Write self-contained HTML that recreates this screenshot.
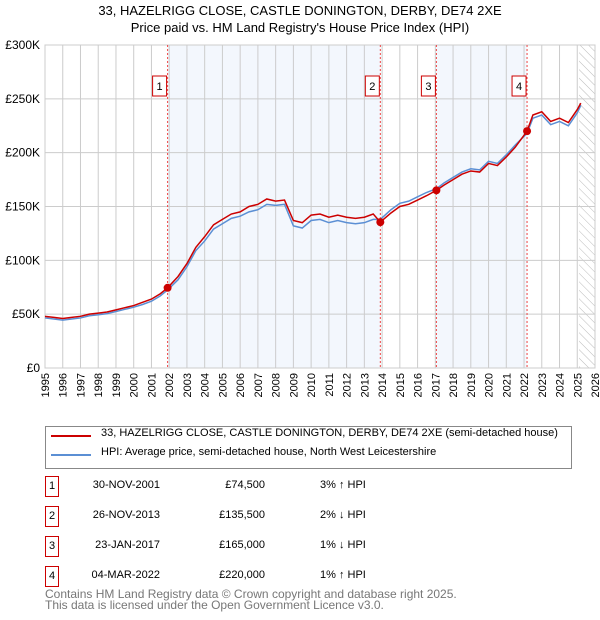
<!DOCTYPE html>
<html><head><meta charset="utf-8"><style>
body{margin:0;background:#fff;font-family:"Liberation Sans","DejaVu Sans",sans-serif;}
#wrap{position:relative;width:600px;height:620px;overflow:hidden}
.t{position:absolute;font-size:12px;color:#000;white-space:nowrap}
.box{position:absolute;border:1px solid #c00;width:12px;height:19px;font-size:11px;text-align:center;line-height:19px}
</style></head><body><div id="wrap">
<svg id="svg" width="600" height="420" style="position:absolute;left:0;top:0"></svg>
<div style="position:absolute;left:45px;top:426px;width:525px;height:41px;border:1px solid #888"></div>
<div style="position:absolute;left:51px;top:435px;width:40px;border-top:2px solid #c00"></div>
<div class="t" style="left:101px;top:427px;font-size:11px">33, HAZELRIGG CLOSE, CASTLE DONINGTON, DERBY, DE74 2XE (semi-detached house)</div>
<div style="position:absolute;left:51px;top:454px;width:40px;border-top:2px solid #5b8fd4"></div>
<div class="t" style="left:101px;top:446px;font-size:11px">HPI: Average price, semi-detached house, North West Leicestershire</div>
<div id="rows"></div>
<div class="t" style="left:45px;top:589px;font-size:12px;color:#777;line-height:11px">Contains HM Land Registry data © Crown copyright and database right 2025.<br>This data is licensed under the Open Government Licence v3.0.</div>
</div>
<script>
const years=[1995,1995.5,1996,1996.5,1997,1997.5,1998,1998.5,1999,1999.5,2000,2000.5,2001,2001.5,2001.91,2002.5,2003,2003.5,2004,2004.5,2005,2005.5,2006,2006.5,2007,2007.5,2008,2008.5,2009,2009.5,2010,2010.5,2011,2011.5,2012,2012.5,2013,2013.5,2013.9,2014.5,2015,2015.5,2016,2016.5,2017.06,2017.5,2018,2018.5,2019,2019.5,2020,2020.5,2021,2021.5,2022.17,2022.5,2023,2023.5,2024,2024.5,2025,2025.2];
const priceK=[48,47,46,47,48,50,51,52,54,56,58,61,64,69,74.5,85,97,112,122,133,138,143,145,150,152,157,155,156,137,135,142,143,140,142,140,139,140,143,135.5,144,150,152,156,160,165,170,175,180,183,182,190,188,196,205,220,235,238,229,232,228,240,246];
const hpiK=[46.5,45.5,44.5,45.5,46.5,48.5,49.5,50.5,52.5,54.5,56.5,59,62,67,72.5,82,94,109,118,129,134,139,141,145,147,152,151,152,132,130,137,138,135,137,135,134,135,138,138,147,153,155,159,163,166.5,172,177,182,185,184,192,190,198,207,218,232,235,226,229,225,237,244];
const salesX=[2001.91,2013.9,2017.06,2022.17];
const salesK=[74.5,135.5,165,220];
const saleDates=["30-NOV-2001","26-NOV-2013","23-JAN-2017","04-MAR-2022"];
const salePrices=["£74,500","£135,500","£165,000","£220,000"];
const saleHpi=["3% ↑ HPI","2% ↓ HPI","1% ↓ HPI","1% ↑ HPI"];
const yTicks=[0,50,100,150,200,250,300];
const yLabels=["£0","£50K","£100K","£150K","£200K","£250K","£300K"];
const NS="http://www.w3.org/2000/svg";const svg=document.getElementById('svg');
const X=y=>45+(y-1995)*550/31, Y=v=>368-v*323/300;
function el(t,a,p){const e=document.createElementNS(NS,t);for(const k in a)e.setAttribute(k,a[k]);(p||svg).appendChild(e);return e;}
let e;
e=el('rect',{x:X(salesX[0]),y:45,width:X(salesX[1])-X(salesX[0]),height:323,fill:'#eef3fc',opacity:0.7});


e=el('rect',{x:X(salesX[2]),y:45,width:X(salesX[3])-X(salesX[2]),height:323,fill:'#eef3fc',opacity:0.7});


const defs=el('defs',{});const pat=el('pattern',{id:'h',width:6,height:6,patternUnits:'userSpaceOnUse',patternTransform:'rotate(-45)'},defs);el('line',{x1:0,y1:0,x2:0,y2:6,stroke:'#bbb','stroke-width':1},pat);
e=el('rect',{x:X(2025.1),y:45,width:595-X(2025.1),height:323,fill:'url(#h)'});


for(let yr=1995;yr<=2026;yr++){
 e=el('line',{x1:X(yr),x2:X(yr),y1:45,y2:368,stroke:'#ccc'});
 
 
 e=el('text',{x:0,y:0,transform:`translate(${X(yr)+4},${373}) rotate(-90)`,'text-anchor':'end','font-size':11,'font-family':'Liberation Sans,sans-serif'});e.textContent=yr;
 
 
}
yTicks.forEach((v,i)=>{
 e=el('line',{x1:45,x2:595,y1:Y(v),y2:Y(v),stroke:'#ccc'});
 
 
 e=el('text',{x:40,y:Y(v)+4,'text-anchor':'end','font-size':12,'font-family':'Liberation Sans,sans-serif'});e.textContent=yLabels[i];
 
 
});
el('rect',{x:45,y:45,width:550,height:323,fill:'none',stroke:'#ccc'});
salesX.forEach((s,i)=>{
 e=el('line',{x1:X(s),x2:X(s),y1:45,y2:368,stroke:'#e44','stroke-dasharray':'2,2'});
 
 
 el('rect',{x:X(s)-15,y:76,width:14,height:20,fill:'#fff',stroke:'#c00'});
 e=el('text',{x:X(s)-8,y:90,'text-anchor':'middle','font-size':11,'font-family':'Liberation Sans,sans-serif'});e.textContent=i+1;
 
 
});
e=el('polyline',{points:years.map((y,i)=>X(y)+','+Y(hpiK[i])).join(' '),fill:'none',stroke:'#5b8fd4','stroke-width':1.5});


e=el('polyline',{points:years.map((y,i)=>X(y)+','+Y(priceK[i])).join(' '),fill:'none',stroke:'#c00','stroke-width':1.5});


salesX.forEach((s,i)=>{e=el('circle',{cx:X(s),cy:Y(salesK[i]),r:4,fill:'#c00'});
 
 });
e=el('text',{x:300,y:15,'text-anchor':'middle','font-size':13,'font-family':'Liberation Sans,sans-serif'});e.textContent='33, HAZELRIGG CLOSE, CASTLE DONINGTON, DERBY, DE74 2XE';


e=el('text',{x:300,y:32,'text-anchor':'middle','font-size':13,'font-family':'Liberation Sans,sans-serif'});e.textContent="Price paid vs. HM Land Registry's House Price Index (HPI)";


const rows=document.getElementById('rows');
saleDates.forEach((d,i)=>{const top=476+i*30;
 let r=document.createElement('div');r.className='box';r.style.left='45px';r.style.top=top+'px';r.textContent=i+1;
 
 rows.appendChild(r);
 r=document.createElement('div');r.className='t';r.style.left='88px';r.style.top=(top+3)+'px';r.style.width='72px';r.style.textAlign='right';r.style.fontSize='11px';r.textContent=d;
 
 rows.appendChild(r);
 r=document.createElement('div');r.className='t';r.style.left='200px';r.style.top=(top+3)+'px';r.style.width='65px';r.style.textAlign='right';r.style.fontSize='11px';r.textContent=salePrices[i];
 
 rows.appendChild(r);
 r=document.createElement('div');r.className='t';r.style.left='320px';r.style.top=(top+3)+'px';r.style.fontSize='11px';r.textContent=saleHpi[i];
 
 rows.appendChild(r);
});
</script></body></html>
